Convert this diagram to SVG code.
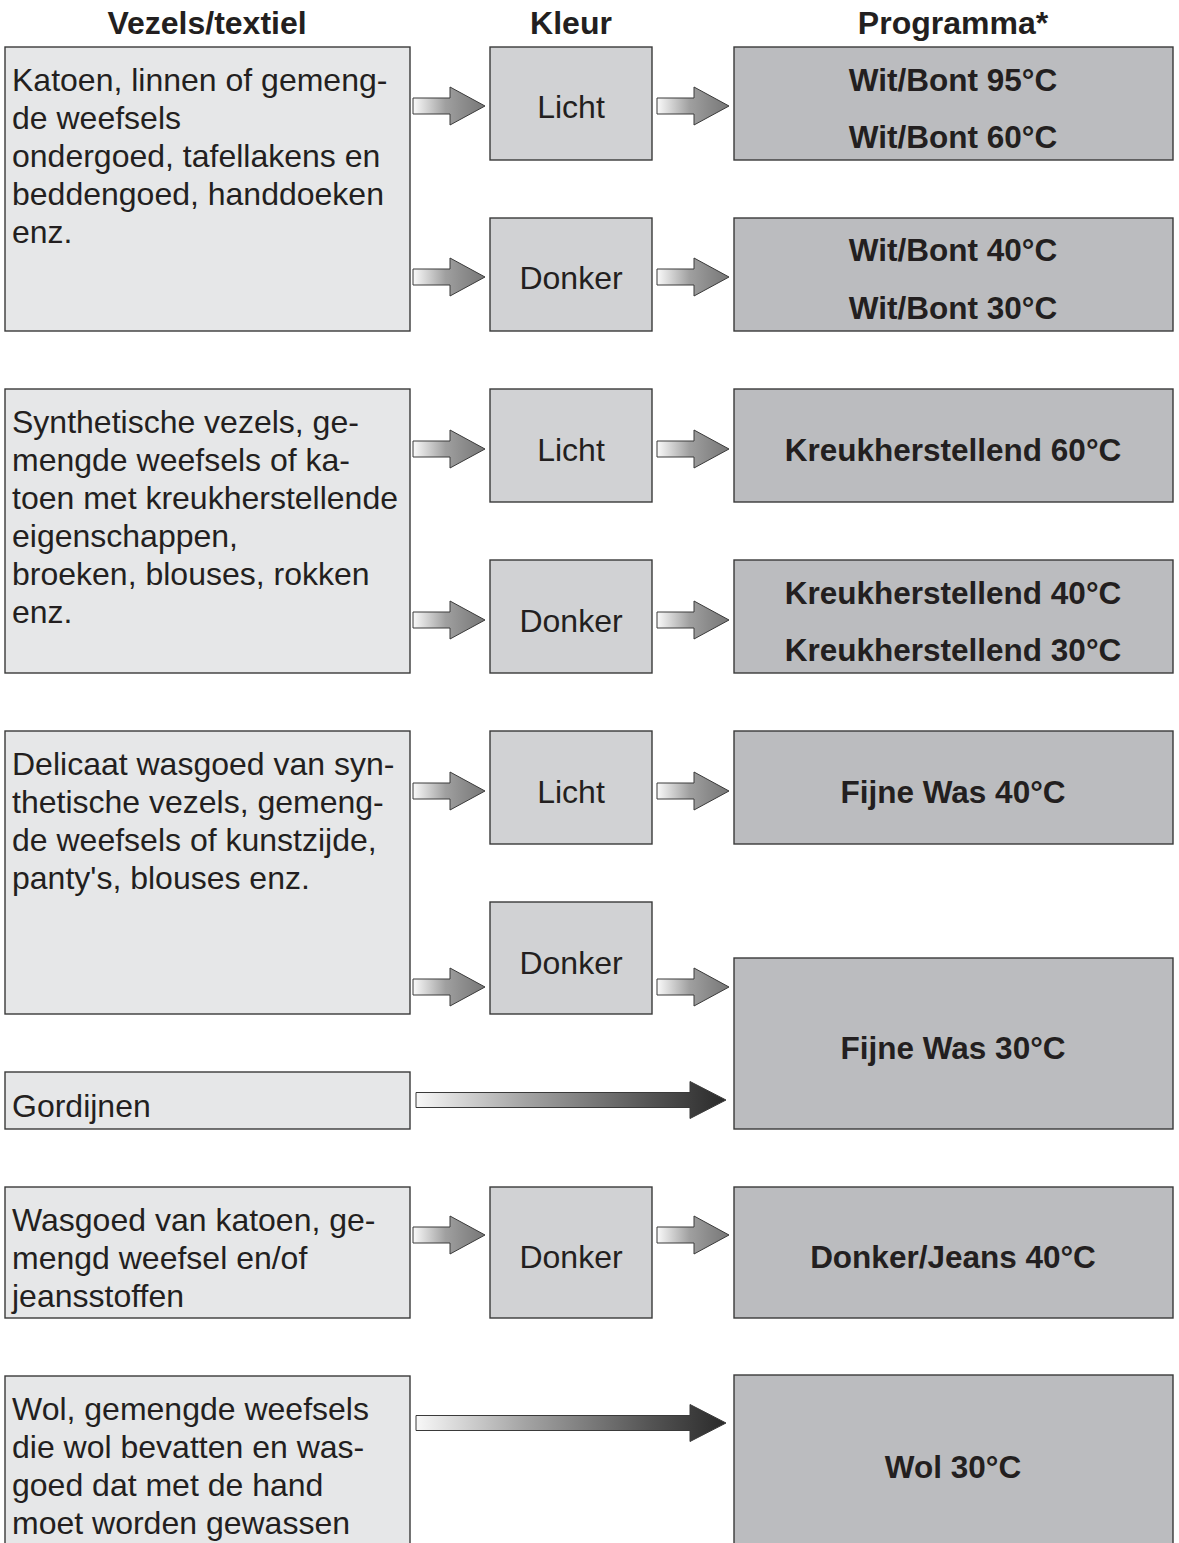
<svg xmlns="http://www.w3.org/2000/svg" width="1179" height="1543" viewBox="0 0 1179 1543">
<defs>
<style>
.hdr{font-family:"Liberation Sans",Arial,sans-serif;font-weight:bold;font-size:32px;fill:#231f20;text-anchor:middle}
.lt{font-family:"Liberation Sans",Arial,sans-serif;font-size:32px;fill:#231f20}
.mt{font-family:"Liberation Sans",Arial,sans-serif;font-size:32px;fill:#231f20;text-anchor:middle}
.rt{font-family:"Liberation Sans",Arial,sans-serif;font-weight:bold;font-size:31.5px;fill:#231f20;text-anchor:middle}
.bl{fill:#e6e7e8;stroke:#3a3a3a;stroke-width:1.4}
.bm{fill:#d1d2d4;stroke:#3a3a3a;stroke-width:1.4}
.br{fill:#bbbcbf;stroke:#3a3a3a;stroke-width:1.4}
.sa{fill:url(#gs);stroke:#3a3a3a;stroke-width:1}
.la{fill:url(#gl);stroke:#3a3a3a;stroke-width:1}
</style>
<linearGradient id="gs" x1="0" y1="0" x2="1" y2="0">
<stop offset="0" stop-color="#fafafa"/>
<stop offset="0.45" stop-color="#a0a0a0"/>
<stop offset="0.7" stop-color="#8c8c8c"/>
<stop offset="1" stop-color="#777"/>
</linearGradient>
<linearGradient id="gl" x1="0" y1="0" x2="1" y2="0">
<stop offset="0" stop-color="#f8f8f8"/>
<stop offset="0.35" stop-color="#a4a4a4"/>
<stop offset="0.75" stop-color="#555"/>
<stop offset="1" stop-color="#2a2a2a"/>
</linearGradient>
<path id="sarrow" class="sa" d="M0,-8 H37 V-19 L72,0 L37,19 V8 H0 Z"/>
<path id="larrow" class="la" d="M0,-7.5 H274 V-18.5 L310,0 L274,18.5 V7.5 H0 Z"/>
</defs>

<g id="headers">
<text class="hdr" x="207" y="34">Vezels/textiel</text>
<text class="hdr" x="571" y="34">Kleur</text>
<text class="hdr" x="953" y="34">Programma*</text>
</g>

<g id="row1-fabric">
<rect class="bl" x="5" y="47" width="405" height="284"/>
<text class="lt" x="12" y="91">Katoen, linnen of gemeng-</text>
<text class="lt" x="12" y="129">de weefsels</text>
<text class="lt" x="12" y="167">ondergoed, tafellakens en</text>
<text class="lt" x="12" y="205">beddengoed, handdoeken</text>
<text class="lt" x="12" y="243">enz.</text>
</g>
<g id="row1-licht"><rect class="bm" x="490" y="47" width="162" height="113"/><text class="mt" x="571" y="118">Licht</text></g>
<g id="row1-donker"><rect class="bm" x="490" y="218" width="162" height="113"/><text class="mt" x="571" y="289">Donker</text></g>
<g id="row1-prog-a"><rect class="br" x="734" y="47" width="439" height="113"/><text class="rt" x="953" y="91">Wit/Bont 95°C</text><text class="rt" x="953" y="148">Wit/Bont 60°C</text></g>
<g id="row1-prog-b"><rect class="br" x="734" y="218" width="439" height="113"/><text class="rt" x="953" y="261">Wit/Bont 40°C</text><text class="rt" x="953" y="319">Wit/Bont 30°C</text></g>

<g id="row2-fabric">
<rect class="bl" x="5" y="389" width="405" height="284"/>
<text class="lt" x="12" y="433">Synthetische vezels, ge-</text>
<text class="lt" x="12" y="471">mengde weefsels of ka-</text>
<text class="lt" x="12" y="509">toen met kreukherstellende</text>
<text class="lt" x="12" y="547">eigenschappen,</text>
<text class="lt" x="12" y="585">broeken, blouses, rokken</text>
<text class="lt" x="12" y="623">enz.</text>
</g>
<g id="row2-licht"><rect class="bm" x="490" y="389" width="162" height="113"/><text class="mt" x="571" y="461">Licht</text></g>
<g id="row2-donker"><rect class="bm" x="490" y="560" width="162" height="113"/><text class="mt" x="571" y="632">Donker</text></g>
<g id="row2-prog-a"><rect class="br" x="734" y="389" width="439" height="113"/><text class="rt" x="953" y="461">Kreukherstellend 60°C</text></g>
<g id="row2-prog-b"><rect class="br" x="734" y="560" width="439" height="113"/><text class="rt" x="953" y="604">Kreukherstellend 40°C</text><text class="rt" x="953" y="661">Kreukherstellend 30°C</text></g>

<g id="row3-fabric">
<rect class="bl" x="5" y="731" width="405" height="283"/>
<text class="lt" x="12" y="775">Delicaat wasgoed van syn-</text>
<text class="lt" x="12" y="813">thetische vezels, gemeng-</text>
<text class="lt" x="12" y="851">de weefsels of kunstzijde,</text>
<text class="lt" x="12" y="889">panty's, blouses enz.</text>
</g>
<g id="row3-licht"><rect class="bm" x="490" y="731" width="162" height="113"/><text class="mt" x="571" y="803">Licht</text></g>
<g id="row3-donker"><rect class="bm" x="490" y="902" width="162" height="112"/><text class="mt" x="571" y="974">Donker</text></g>
<g id="row3-prog-a"><rect class="br" x="734" y="731" width="439" height="113"/><text class="rt" x="953" y="803">Fijne Was 40°C</text></g>
<g id="row3-prog-b"><rect class="br" x="734" y="958" width="439" height="171"/><text class="rt" x="953" y="1059">Fijne Was 30°C</text></g>

<g id="row4-fabric">
<rect class="bl" x="5" y="1072" width="405" height="57"/>
<text class="lt" x="12" y="1117">Gordijnen</text>
</g>

<g id="row5-fabric">
<rect class="bl" x="5" y="1187" width="405" height="131"/>
<text class="lt" x="12" y="1231">Wasgoed van katoen, ge-</text>
<text class="lt" x="12" y="1269">mengd weefsel en/of</text>
<text class="lt" x="12" y="1307">jeansstoffen</text>
</g>
<g id="row5-donker"><rect class="bm" x="490" y="1187" width="162" height="131"/><text class="mt" x="571" y="1268">Donker</text></g>
<g id="row5-prog"><rect class="br" x="734" y="1187" width="439" height="131"/><text class="rt" x="953" y="1268">Donker/Jeans 40°C</text></g>

<g id="row6-fabric">
<rect class="bl" x="5" y="1376" width="405" height="190"/>
<text class="lt" x="12" y="1420">Wol, gemengde weefsels</text>
<text class="lt" x="12" y="1458">die wol bevatten en was-</text>
<text class="lt" x="12" y="1496">goed dat met de hand</text>
<text class="lt" x="12" y="1534">moet worden gewassen</text>
</g>
<g id="row6-prog"><rect class="br" x="734" y="1375" width="439" height="190"/><text class="rt" x="953" y="1478">Wol 30°C</text></g>

<g id="connectors">
<use href="#sarrow" x="413" y="106"/>
<use href="#sarrow" x="657" y="106"/>
<use href="#sarrow" x="413" y="277"/>
<use href="#sarrow" x="657" y="277"/>
<use href="#sarrow" x="413" y="449"/>
<use href="#sarrow" x="657" y="449"/>
<use href="#sarrow" x="413" y="620"/>
<use href="#sarrow" x="657" y="620"/>
<use href="#sarrow" x="413" y="791"/>
<use href="#sarrow" x="657" y="791"/>
<use href="#sarrow" x="413" y="987"/>
<use href="#sarrow" x="657" y="987"/>
<use href="#larrow" x="416" y="1100"/>
<use href="#sarrow" x="413" y="1235"/>
<use href="#sarrow" x="657" y="1235"/>
<use href="#larrow" x="416" y="1423"/>
</g>
</svg>
